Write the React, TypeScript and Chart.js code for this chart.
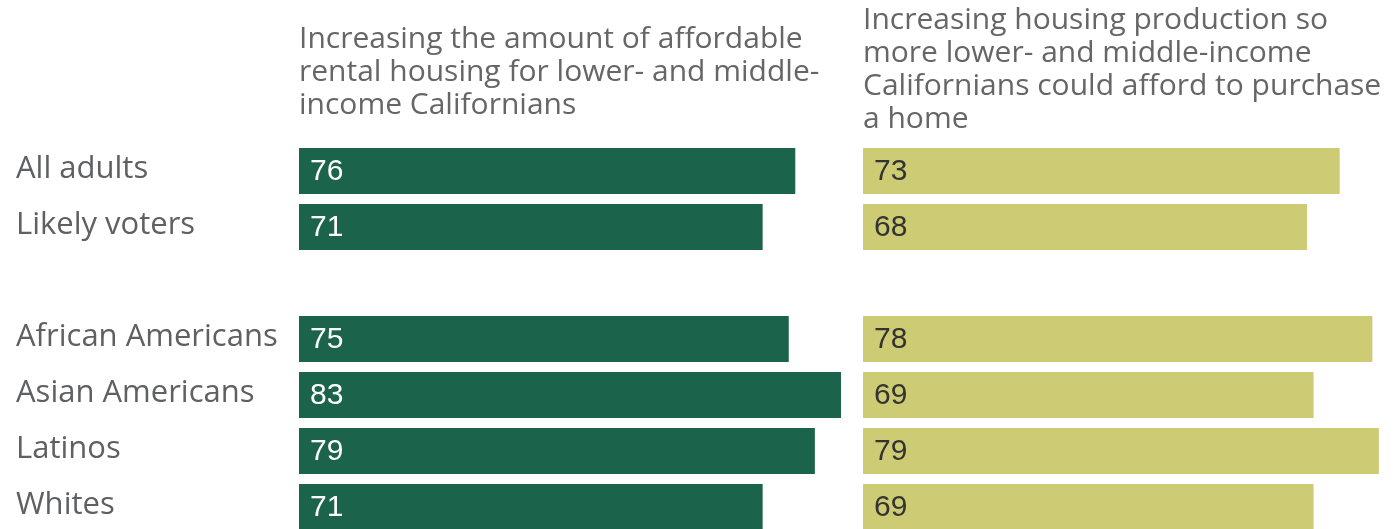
import React, { useEffect, useRef } from "react";
import { Chart, registerables } from "chart.js";

Chart.register(...registerables);

const categories = ["All adults", "Likely voters", "", "African Americans", "Asian Americans", "Latinos", "Whites"];
const rentalValues = [76, 71, null, 75, 83, 79, 71];
const purchaseValues = [73, 68, null, 78, 69, 79, 69];
const rentalTitle = ["Increasing the amount of affordable", "rental housing for lower- and middle-", "income Californians"];
const purchaseTitle = ["Increasing housing production so", "more lower- and middle-income", "Californians could afford to purchase", "a home"];

const GREEN = "#1b634a";
const YELLOW = "#cdcb74";
const LABEL_FONT = "'Open Sans', sans-serif";

const valueLabelPlugin = {
  id: "valueLabels",
  afterDatasetsDraw(chart: any, _args: any, opts: any) {
    const ctx = chart.ctx;
    const meta = chart.getDatasetMeta(0);
    const data = chart.data.datasets[0].data;
    ctx.save();
    ctx.font = "30px 'Liberation Sans', Arial, sans-serif";
    ctx.fillStyle = opts.color || "#fff";
    ctx.textAlign = "left";
    ctx.textBaseline = "middle";
    meta.data.forEach((bar: any, i: number) => {
      const v = data[i];
      if (v === null || v === undefined) return;
      ctx.fillText(String(v), bar.base + 11, bar.y + 1);
    });
    ctx.restore();
  },
};

function makeConfig(values: (number | null)[], color: string, title: string[], labelColor: string, showY: boolean, padTop: number, padBottom: number): any {
  return {
    type: "bar",
    data: {
      labels: categories,
      datasets: [
        {
          data: values,
          backgroundColor: color,
          borderWidth: 0,
          barPercentage: 46 / 56,
          categoryPercentage: 1,
        },
      ],
    },
    plugins: [valueLabelPlugin],
    options: {
      indexAxis: "y",
      responsive: false,
      animation: false,
      layout: { padding: { left: showY ? 16 : 0, right: 0, top: 0, bottom: 5 } },
      plugins: {
        legend: { display: false },
        tooltip: { enabled: false },
        valueLabels: { color: labelColor },
        title: {
          display: true,
          text: title,
          align: "start",
          fullSize: false,
          color: "#666666",
          font: { family: LABEL_FONT, size: 30, weight: "normal", lineHeight: "33px" },
          padding: { top: padTop, bottom: padBottom },
        },
      },
      scales: {
        x: {
          display: false,
          min: 0,
          max: 100,
          grid: { display: false },
        },
        y: {
          display: showY,
          grid: { display: false, drawTicks: false },
          border: { display: false },
          ticks: {
            crossAlign: "far",
            padding: 0,
            labelOffset: -2,
            color: "#5f6062",
            font: { family: LABEL_FONT, size: 31 },
          },
          afterFit(scale: any) {
            if (showY) {
              scale.width = 283;
            }
            scale.paddingTop = 0;
            scale.paddingBottom = 0;
          },
        },
      },
    },
  };
}

export default function App() {
  const leftRef = useRef<HTMLCanvasElement>(null);
  const rightRef = useRef<HTMLCanvasElement>(null);

  useEffect(() => {
    const left = new Chart(leftRef.current!, makeConfig(rentalValues, GREEN, rentalTitle, "#ffffff", true, 23, 21));
    const right = new Chart(rightRef.current!, makeConfig(purchaseValues, YELLOW, purchaseTitle, "#333333", false, 4, 7));
    return () => {
      left.destroy();
      right.destroy();
    };
  }, []);

  return (
    <div style={{ position: "absolute", left: 0, top: 0, width: 1395, height: 529, overflow: "hidden", background: "#fff" }}>
      <canvas ref={leftRef} width={952} height={540} style={{ position: "absolute", left: 0, top: 0, width: 952, height: 540 }} />
      <canvas ref={rightRef} width={653} height={540} style={{ position: "absolute", left: 863, top: 0, width: 653, height: 540 }} />
    </div>
  );
}
